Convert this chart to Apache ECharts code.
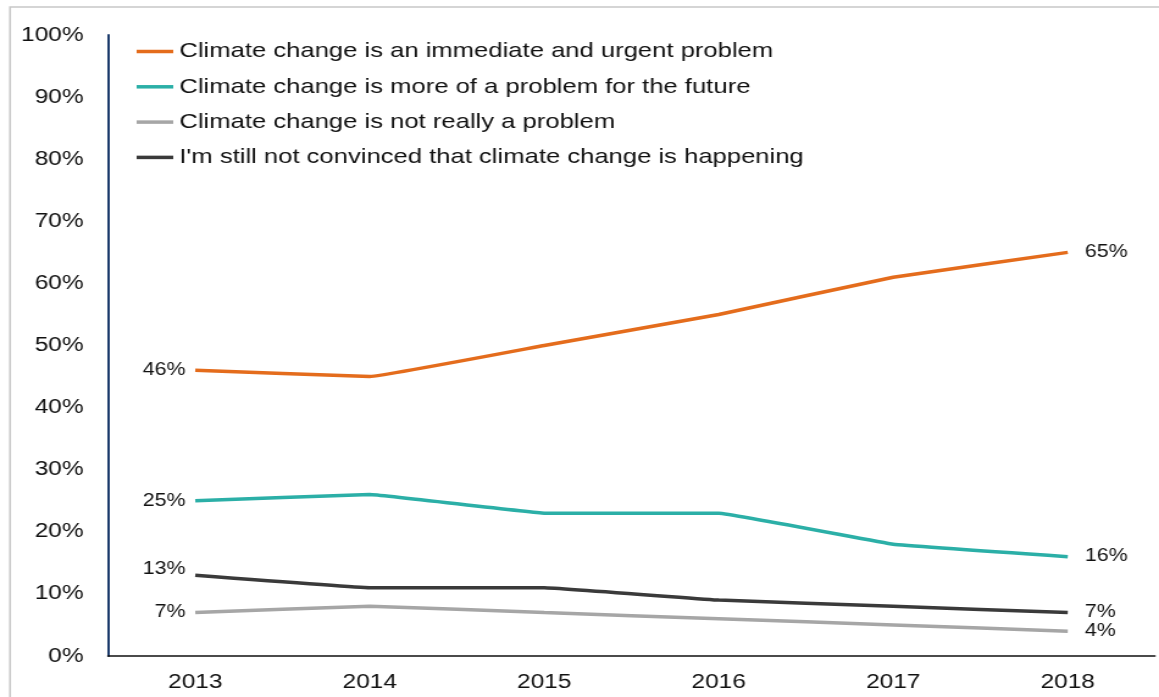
<!DOCTYPE html>
<html>
<head>
<meta charset="utf-8">
<script src="https://cdn.jsdelivr.net/npm/echarts@6/dist/echarts.min.js"></script>
<style>
  html, body { margin: 0; padding: 0; background: #fff; overflow: hidden; }
  /* the chart is laid out on a narrower canvas and widened horizontally */
  #chart {
    position: absolute; left: 0; top: 0;
    width: 950px; height: 697px;
    transform: scaleX(1.22); transform-origin: 0 0;
  }
</style>
</head>
<body>
<div id="chart"></div>
<script>
// Survey years
const years = ['2013', '2014', '2015', '2016', '2017', '2018'];

// Share of respondents (%) per statement
const urgent = [46, 45, 50, 55, 61, 65];
const future = [25, 26, 23, 23, 18, 16];
const notProblem = [7, 8, 7, 6, 5, 4];
const notConvinced = [13, 11, 11, 9, 8, 7];

const seriesNames = [
  'Climate change is an immediate and urgent problem',
  'Climate change is more of a problem for the future',
  'Climate change is not really a problem',
  "I'm still not convinced that climate change is happening"
];
const seriesColors = ['#E46C1C', '#2BAFA7', '#A6A6A6', '#3A3A3A'];

const FONT = '"Liberation Sans", Arial, sans-serif';

// Label only the first and last point of each line
function withEndLabels(values, firstOffset) {
  const last = values.length - 1;
  return values.map((v, i) => {
    if (i === 0) {
      return { value: v, label: { show: true, position: 'left', distance: 8, offset: firstOffset || [0, 0] } };
    }
    if (i === last) {
      return { value: v, label: { show: true, position: 'right', distance: 14 } };
    }
    return { value: v, label: { show: false } };
  });
}

const seriesData = [
  withEndLabels(urgent),
  withEndLabels(future),
  withEndLabels(notProblem),
  withEndLabels(notConvinced, [0, -6])
];

const chart = echarts.init(document.getElementById('chart'), null, { renderer: 'canvas' });

chart.setOption({
  animation: false,
  backgroundColor: '#ffffff',
  textStyle: { fontFamily: FONT },
  graphic: [{
    type: 'polyline',
    silent: true,
    shape: { points: [[8.2, 697], [8.2, 7], [950, 7]] },
    style: { stroke: '#c8c8c8', lineWidth: 1.5, fill: null }
  }],
  grid: { left: 88.5, right: 3.3, top: 35, bottom: 41, containLabel: false },
  legend: {
    orient: 'vertical',
    left: 112,
    top: 41,
    padding: 0,
    icon: 'rect',
    itemWidth: 30,
    itemHeight: 3.5,
    itemGap: 14.3,
    textStyle: { fontSize: 21, color: '#111', fontFamily: FONT },
    data: seriesNames
  },
  xAxis: {
    type: 'category',
    data: years,
    boundaryGap: true,
    axisLine: { lineStyle: { color: '#111', width: 1.5 } },
    axisTick: { show: false },
    axisLabel: { fontSize: 20, color: '#111', margin: 16, fontFamily: FONT }
  },
  yAxis: {
    type: 'value',
    min: 0,
    max: 100,
    interval: 10,
    splitLine: { show: false },
    axisLine: { show: true, lineStyle: { color: '#1B3A6B', width: 2 } },
    axisTick: { show: false },
    axisLabel: { fontSize: 20, color: '#111', margin: 20, fontFamily: FONT, formatter: '{value}%' }
  },
  series: seriesNames.map((name, k) => ({
    name: name,
    type: 'line',
    data: seriesData[k],
    symbol: 'circle',
    symbolSize: 0,
    showSymbol: true,
    smooth: 0.06,
    color: seriesColors[k],
    itemStyle: { color: seriesColors[k] },
    lineStyle: { width: 3.5, color: seriesColors[k] },
    label: { fontSize: 17.5, color: '#111', fontFamily: FONT, formatter: '{c}%' },
    z: k === 3 ? 3 : 2
  }))
});
</script>
</body>
</html>
